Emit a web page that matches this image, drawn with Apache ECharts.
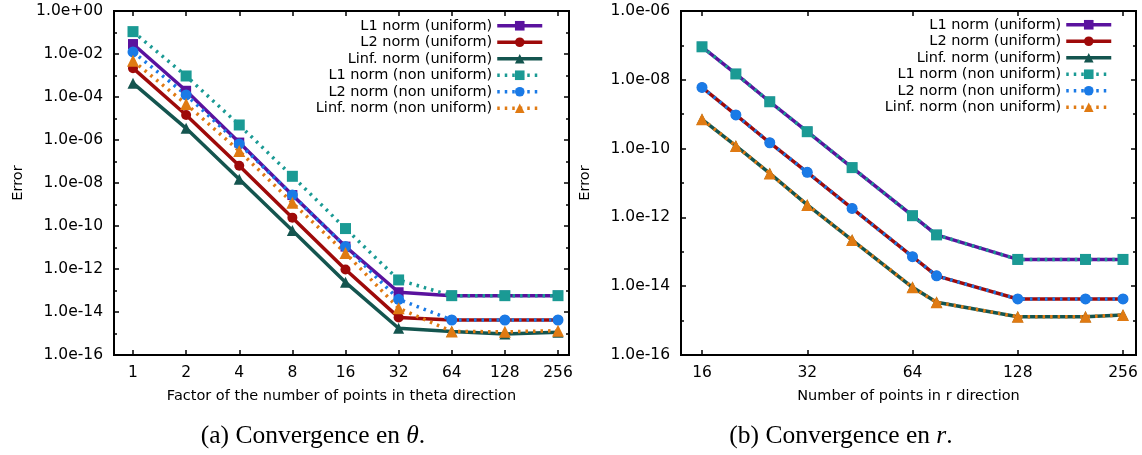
<!DOCTYPE html>
<html><head><meta charset="utf-8">
<script src="https://cdn.jsdelivr.net/npm/echarts@6/dist/echarts.min.js"></script>
<style>html,body{margin:0;padding:0;background:#fff}#c{width:1142px;height:455px}</style>
</head><body><div id="c"></div>
<script>
// ---------- data ----------
const seriesNames = ['L1 norm (uniform)', 'L2 norm (uniform)', 'Linf. norm (uniform)',
  'L1 norm (non uniform)', 'L2 norm (non uniform)', 'Linf. norm (non uniform)'];

// (a) convergence in theta
const thetaFactors = [1, 2, 4, 8, 16, 32, 64, 128, 256];
const thetaL1Uniform    = [2.9e-2, 1.95e-4, 7.6e-7, 2.75e-9, 1.1e-11, 8.3e-14, 5.75e-14, 5.75e-14, 5.75e-14];
const thetaL2Uniform    = [2.2e-3, 1.45e-5, 6.3e-8, 2.45e-10, 9.5e-13, 5.6e-15, 4.25e-15, 4.25e-15, 4.25e-15];
const thetaLinfUniform  = [4.4e-4, 3.5e-6, 1.5e-8, 6.2e-11, 2.4e-13, 1.75e-15, 1.25e-15, 9.5e-16, 1.15e-15];
const thetaL1NonUni     = [1.1e-1, 9.5e-4, 5.0e-6, 2.05e-8, 7.6e-11, 3.1e-13, 5.75e-14, 5.75e-14, 5.75e-14];
const thetaL2NonUni     = [1.25e-2, 1.25e-4, 6.6e-7, 2.75e-9, 1.1e-11, 3.9e-14, 4.25e-15, 4.25e-15, 4.25e-15];
const thetaLinfNonUni   = [4.8e-3, 4.7e-5, 3.1e-7, 1.2e-9, 5.5e-12, 1.5e-14, 1.25e-15, 1.2e-15, 1.35e-15];

// (b) convergence in r
const rPoints = [16, 20, 25, 32, 43, 64, 75, 128, 200, 256];
const rL1Uniform   = [9.1e-8, 1.48e-8, 2.3e-9, 3.1e-10, 2.8e-11, 1.12e-12, 3.1e-13, 6.0e-14, 6.0e-14, 6.0e-14];
const rL2Uniform   = [6.0e-9, 9.5e-10, 1.48e-10, 2.05e-11, 1.82e-12, 7.2e-14, 2.0e-14, 4.25e-15, 4.25e-15, 4.25e-15];
const rLinfUniform = [7.1e-10, 1.2e-10, 1.9e-11, 2.3e-12, 2.2e-13, 9.3e-15, 3.4e-15, 1.3e-15, 1.3e-15, 1.45e-15];
const rL1NonUni    = [9.1e-8, 1.48e-8, 2.3e-9, 3.1e-10, 2.8e-11, 1.12e-12, 3.1e-13, 6.0e-14, 6.0e-14, 6.0e-14];
const rL2NonUni    = [6.0e-9, 9.5e-10, 1.48e-10, 2.05e-11, 1.82e-12, 7.2e-14, 2.0e-14, 4.25e-15, 4.25e-15, 4.25e-15];
const rLinfNonUni  = [7.1e-10, 1.2e-10, 1.9e-11, 2.3e-12, 2.2e-13, 9.3e-15, 3.4e-15, 1.3e-15, 1.3e-15, 1.45e-15];

const xNameA = 'Factor of the number of points in theta direction';
const xNameB = 'Number of points in r direction';
const yName = 'Error';

// ---------- styles ----------
const styles = [
  {color: '#5a129e', symbol: 'rect', size: 10, type: 'solid'},
  {color: '#9e0a0a', symbol: 'circle', size: 10, type: 'solid'},
  {color: '#14554f', symbol: 'triangle', size: 11, type: 'solid'},
  {color: '#1a9a94', symbol: 'rect', size: 11, type: [2.5, 5]},
  {color: '#1a7ae6', symbol: 'circle', size: 11, type: [2.5, 5]},
  {color: '#e07a12', symbol: 'triangle', size: 12, type: [2.5, 5]}
];
const FONT = 'DejaVu Sans';

function expFmt(v) {
  const e = Math.round(Math.log10(v));
  const a = Math.abs(e);
  return '1.0e' + (e < 0 ? '-' : '+') + (a < 10 ? '0' : '') + a;
}

function mkSeries(i, xs, ys, xi, yi) {
  const s = styles[i];
  return {
    type: 'line', name: seriesNames[i], xAxisIndex: xi, yAxisIndex: yi,
    data: xs.map((x, k) => [x, ys[k]]),
    symbol: s.symbol, symbolSize: s.size, showSymbol: true,
    lineStyle: {color: s.color, width: 3.5, type: s.type, cap: 'butt'},
    itemStyle: {color: s.color},
    emphasis: {disabled: true}, silent: true, clip: false
  };
}

function outerY(gridIndex, min, max, position, interval, tickLen, labels, named) {
  return {
    type: 'log', logBase: 10, gridIndex, min, max, position, interval,
    splitNumber: Math.round(Math.log10(max / min) / interval),
    name: named ? yName : '', nameLocation: 'middle', nameGap: 88,
    nameTextStyle: {fontSize: 14.5, color: '#000', fontFamily: FONT},
    axisLine: {show: false},
    axisTick: {show: true, inside: true, length: tickLen, lineStyle: {color: '#000', width: 1.5}},
    axisLabel: {show: labels, fontSize: 15.5, color: '#000', fontFamily: FONT, margin: 11, formatter: expFmt},
    splitLine: {show: false}
  };
}

const grids = [
  {left: 114, top: 11, width: 455, height: 344, show: true, borderColor: '#000', borderWidth: 2, backgroundColor: 'transparent'},
  {left: 133, top: 11, width: 425, height: 344, show: false},
  {left: 681, top: 11, width: 455, height: 344, show: true, borderColor: '#000', borderWidth: 2, backgroundColor: 'transparent'},
  {left: 702, top: 11, width: 421, height: 344, show: false}
];

function outerX(gridIndex, name) {
  return {
    type: 'value', gridIndex, min: 0, max: 1, position: 'bottom',
    name, nameLocation: 'middle', nameGap: 34,
    nameTextStyle: {fontSize: 14.5, color: '#000', fontFamily: FONT},
    axisLine: {show: false}, axisTick: {show: false}, axisLabel: {show: false}, splitLine: {show: false}
  };
}
function innerX(gridIndex, min, max, position, labels) {
  return {
    type: 'log', logBase: 2, gridIndex, min, max, position, interval: 1,
    splitNumber: Math.round(Math.log2(max / min)),
    axisLine: {show: false},
    axisTick: {show: true, inside: true, length: 5, lineStyle: {color: '#000', width: 1.5}},
    axisLabel: {show: labels, fontSize: 15.5, color: '#000', fontFamily: FONT, margin: 10,
      formatter: v => String(Math.round(v))},
    splitLine: {show: false}
  };
}

const xAxes = [
  outerX(0, xNameA),
  innerX(1, thetaFactors[0], thetaFactors[thetaFactors.length - 1], 'bottom', true),
  innerX(1, thetaFactors[0], thetaFactors[thetaFactors.length - 1], 'top', false),
  outerX(2, xNameB),
  innerX(3, rPoints[0], rPoints[rPoints.length - 1], 'bottom', true),
  innerX(3, rPoints[0], rPoints[rPoints.length - 1], 'top', false)
];

const yAxes = [
  outerY(0, 1e-16, 1, 'left', 2, 5, true, true),
  outerY(0, 1e-16, 1, 'left', 1, 3, false, false),
  outerY(0, 1e-16, 1, 'right', 2, 5, false, false),
  outerY(0, 1e-16, 1, 'right', 1, 3, false, false),
  {type: 'log', logBase: 10, gridIndex: 1, min: 1e-16, max: 1, show: false, splitLine: {show: false}},
  outerY(2, 1e-16, 1e-6, 'left', 2, 5, true, true),
  outerY(2, 1e-16, 1e-6, 'left', 1, 3, false, false),
  outerY(2, 1e-16, 1e-6, 'right', 2, 5, false, false),
  outerY(2, 1e-16, 1e-6, 'right', 1, 3, false, false),
  {type: 'log', logBase: 10, gridIndex: 3, min: 1e-16, max: 1e-6, show: false, splitLine: {show: false}}
];

const thetaSets = [thetaL1Uniform, thetaL2Uniform, thetaLinfUniform, thetaL1NonUni, thetaL2NonUni, thetaLinfNonUni];
const rSets = [rL1Uniform, rL2Uniform, rLinfUniform, rL1NonUni, rL2NonUni, rLinfNonUni];
const series = [];
thetaSets.forEach((ys, i) => series.push(mkSeries(i, thetaFactors, ys, 1, 4)));
rSets.forEach((ys, i) => series.push(mkSeries(i, rPoints, ys, 4, 9)));

function mkLegend(right, top) {
  return {
    data: seriesNames, orient: 'vertical', align: 'right', right, top,
    itemWidth: 45, itemHeight: 12, itemGap: 0, selectedMode: false,
    lineStyle: {width: 3.5},
    textStyle: {fontSize: 14.5, color: '#000', fontFamily: FONT, lineHeight: 16.5}
  };
}

function caption(x, label, sym) {
  return {
    type: 'text', x, y: 436, silent: true,
    style: {
      text: label + ' Convergence en {i|' + sym + '}.', align: 'center', verticalAlign: 'middle',
      fontSize: 25.5, fontFamily: 'Liberation Serif', fill: '#000',
      rich: {i: {fontStyle: 'italic', fontSize: 25.5, fontFamily: 'Liberation Serif', fill: '#000'}}
    }
  };
}

const chart = echarts.init(document.getElementById('c'), null, {renderer: 'canvas'});
chart.setOption({
  animation: false,
  backgroundColor: '#fff',
  textStyle: {fontFamily: FONT},
  grid: grids,
  xAxis: xAxes,
  yAxis: yAxes,
  legend: [mkLegend(593, 12.5), mkLegend(24, 11.5)],
  series,
  graphic: [caption(313, '(a)', 'θ'), caption(841, '(b)', 'r')]
});
</script></body></html>
